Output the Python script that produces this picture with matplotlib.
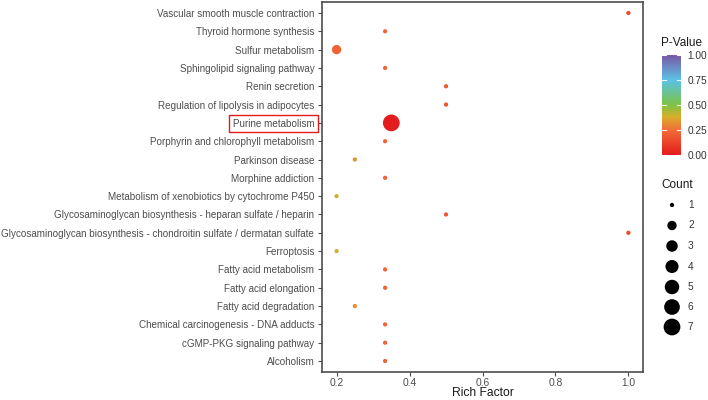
import matplotlib
matplotlib.use("Agg")
import matplotlib.pyplot as plt
import numpy as np
from matplotlib.colors import LinearSegmentedColormap, Normalize
from matplotlib.colorbar import ColorbarBase

plt.rcParams['font.family'] = ['Liberation Sans', 'DejaVu Sans']

pathways = [
    "Vascular smooth muscle contraction",
    "Thyroid hormone synthesis",
    "Sulfur metabolism",
    "Sphingolipid signaling pathway",
    "Renin secretion",
    "Regulation of lipolysis in adipocytes",
    "Purine metabolism",
    "Porphyrin and chlorophyll metabolism",
    "Parkinson disease",
    "Morphine addiction",
    "Metabolism of xenobiotics by cytochrome P450",
    "Glycosaminoglycan biosynthesis - heparan sulfate / heparin",
    "Glycosaminoglycan biosynthesis - chondroitin sulfate / dermatan sulfate",
    "Ferroptosis",
    "Fatty acid metabolism",
    "Fatty acid elongation",
    "Fatty acid degradation",
    "Chemical carcinogenesis - DNA adducts",
    "cGMP-PKG signaling pathway",
    "Alcoholism",
]
rich_factor = [1.0, 0.333, 0.2, 0.333, 0.5, 0.5, 0.35, 0.333, 0.25, 0.333,
               0.2, 0.5, 1.0, 0.2, 0.333, 0.333, 0.25, 0.333, 0.333, 0.333]
counts = [1, 1, 2, 1, 1, 1, 7, 1, 1, 1, 1, 1, 1, 1, 1, 1, 1, 1, 1, 1]
pvalues = [0.15, 0.22, 0.22, 0.22, 0.18, 0.18, 0.01, 0.22, 0.32, 0.22,
           0.39, 0.18, 0.15, 0.39, 0.22, 0.22, 0.32, 0.22, 0.22, 0.22]
count_levels = [1, 2, 3, 4, 5, 6, 7]
pv_ticks = [0.0, 0.25, 0.5, 0.75, 1.0]

cmap = LinearSegmentedColormap.from_list(
    "pv", [(0.0, "#E31A1C"), (0.25, "#F26D3A"), (0.38, "#D9AE2C"), (0.5, "#7CC242"),
           (0.75, "#5BC2E7"), (1.0, "#7B57A6")])
norm = Normalize(0, 1)

def size_of(c):
    s = 1 + 5 * np.sqrt((np.asarray(c, float) - 1) / 6.0)
    d_px = 2.5 * (s + 0.7)
    return (d_px * 72 / 100) ** 2

fig = plt.figure(figsize=(7.08, 4.0), dpi=100)
ax = fig.add_axes([322/708, 1 - 372/400, (643-322)/708, (372-2)/400])

n = len(pathways)
ypos = np.arange(n)[::-1]
ax.scatter(rich_factor, ypos, s=size_of(counts), c=pvalues, cmap=cmap, norm=norm,
           linewidths=0, zorder=3)
ax.set_xlim(0.16, 1.04)
ax.set_ylim(-0.6, n - 0.4)
ax.set_yticks(ypos)
ax.set_yticklabels(pathways)
ax.set_xticks([0.2, 0.4, 0.6, 0.8, 1.0])
ax.set_xticklabels(["0.2", "0.4", "0.6", "0.8", "1.0"])
ax.tick_params(axis='both', colors='#4D4D4D', labelcolor='#4D4D4D', labelsize=7.08,
               length=3, width=0.8, pad=2.5)
ax.tick_params(axis='x', labelsize=7.4, pad=1.2)
for sp in ax.spines.values():
    sp.set_color('#4D4D4D')
    sp.set_linewidth(1.2)
ax.set_xlabel("Rich Factor", fontsize=8.7, color='#1a1a1a')
ax.xaxis.set_label_coords(0.5, -0.0405)

for lbl in ax.get_yticklabels():
    if lbl.get_text() == "Purine metabolism":
        lbl.set_bbox(dict(facecolor='none', edgecolor='#E31A1C', linewidth=1.0, pad=2.5))

# P-Value colorbar
fig.text(661/708, 1 - 43/400, "P-Value", fontsize=8.5, color='#1a1a1a', va='center', ha='left')
cax = fig.add_axes([662/708, 1 - 155/400, 19/708, 100/400])
cb = ColorbarBase(cax, cmap=cmap, norm=norm, orientation='vertical', ticks=pv_ticks)
cb.outline.set_visible(False)
cb.ax.set_yticklabels(["0.00", "0.25", "0.50", "0.75", "1.00"])
cb.ax.tick_params(length=0, labelsize=7.3, labelcolor='#333333', pad=4.5)
for t in pv_ticks:
    cax.plot([0, 0.2], [t, t], color='white', lw=0.8, transform=cax.get_yaxis_transform())
    cax.plot([0.8, 1.0], [t, t], color='white', lw=0.8, transform=cax.get_yaxis_transform())

# Count legend
fig.text(661/708, 1 - 185/400, "Count", fontsize=8.5, color='#1a1a1a', va='center', ha='left')
lax = fig.add_axes([660/708, 1 - 338/400, 45/708, 143/400])
lax.set_xlim(0, 45)
lax.set_ylim(338, 195)
lax.axis('off')
ly = [205, 225.5, 246, 266.5, 287, 307, 327]
lax.scatter([12] * len(count_levels), ly, s=size_of(count_levels), c='black', linewidths=0)
for yy, c in zip(ly, count_levels):
    lax.text(28, yy, str(c), fontsize=7.3, color='#333333', va='center', ha='left')

fig.savefig("out.png", dpi=100)
